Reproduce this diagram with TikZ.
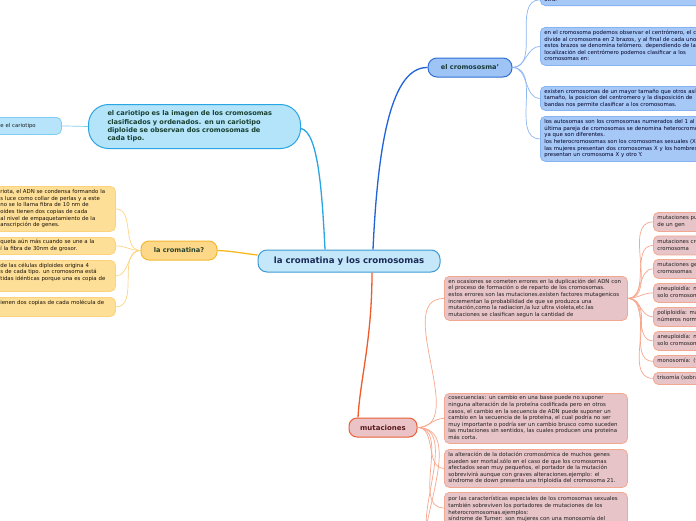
\documentclass[tikz,border=0pt]{standalone}
\usepackage{fontspec}
\setmainfont{DejaVu Sans}
\usetikzlibrary{calc}
\definecolor{bfill}{HTML}{A6C8F7}
\definecolor{bline}{HTML}{86B3F1}
\definecolor{cromfill}{HTML}{9EC4F6}
\definecolor{cromline}{HTML}{2F6FD6}
\definecolor{rootfill}{HTML}{C5E7FA}
\definecolor{rootline}{HTML}{3D9BD6}
\definecolor{cariofill}{HTML}{B3E4FA}
\definecolor{carioline}{HTML}{2AA5E3}
\definecolor{cchfill}{HTML}{B7E4FA}
\definecolor{cchline}{HTML}{7DCEF2}
\definecolor{cmtfill}{HTML}{FDD888}
\definecolor{cmtline}{HTML}{F3B833}
\definecolor{yfill}{HTML}{FEDF97}
\definecolor{yline}{HTML}{FDD27C}
\definecolor{mutfill}{HTML}{EBC3C6}
\definecolor{mutline}{HTML}{EA6036}
\definecolor{mfill}{HTML}{E7C4C8}
\definecolor{mline}{HTML}{F4A790}
\definecolor{cyanc}{HTML}{2AA5E3}
\definecolor{bluec}{HTML}{1E63D8}
\definecolor{yelc}{HTML}{F8B91C}
\definecolor{redc}{HTML}{EF5B2A}
\definecolor{subblue}{HTML}{8CB6F2}
\definecolor{subyel}{HTML}{FDD584}
\definecolor{subsal}{HTML}{F8A78C}
\newcommand\mmsmall{\fontsize{5.4}{6.6}\selectfont}
\newcommand\mmlines[1]{\begin{tabular}{@{}l@{}}#1\end{tabular}}
\tikzset{
  box/.style={draw, line width=0.8pt, anchor=north west, inner xsep=4pt, inner ysep=0pt, align=left, font=\mmsmall, text=black!88},
  bluebox/.style={box, fill=bfill, draw=bline, rounded corners=5pt, text=black!85!blue},
  yelbox/.style={box, fill=yfill, draw=yline, rounded corners=5pt, inner xsep=10pt, text=black!88!brown},
  mbox/.style={box, fill=mfill, draw=mline, rounded corners=5pt},
  topic/.style={draw, line width=1pt, font=\bfseries\fontsize{6.6}{8}\selectfont, inner sep=0pt},
  conn/.style={line width=0.7pt},
  mainconn/.style={line width=1.3pt},
}
\begin{document}
\begin{tikzpicture}[x=1pt,y=-1pt]
\clip (0,0) rectangle (696,520);
\fill[white] (0,0) rectangle (696,520);

% central
\node[topic, fill=rootfill, draw=rootline, rounded corners=9pt, minimum width=182pt, minimum height=22pt, text={rgb,255:red,27;green,43;blue,87}, font=\bfseries\fontsize{8.6}{10}\selectfont] (root) at (349,261) {la cromatina y los cromosomas};

% el cromososma'
\node[topic, fill=cromfill, draw=cromline, rounded corners=9pt, minimum width=84pt, minimum height=19pt, text={rgb,255:red,24;green,58;blue,56}] (crom) at (470,67.5) {el cromososma'};

\node[bluebox, anchor=south west, text width=212pt, inner ysep=2.5pt] (b1) at (540,6) {\mmlines{otra.}};
\node[bluebox, text width=212pt, minimum height=38pt] (b2) at (540,27) {\mmlines{en el cromosoma podemos observar el centrómero, el cual\\divide al cromosoma en 2 brazos, y al final de cada uno de\\estos brazos se denomina telómero. dependiendo de la\\localización del centrómero podemos clasificar a los\\cromosomas en:}};
\node[bluebox, text width=212pt, minimum height=24pt] (b3) at (540,86) {\mmlines{existen cromosomas de un mayor tamaño que otros así\\tamaño, la posicion del centromero y la disposición de\\bandas nos permite clasificar a los cromosomas.}};
\node[bluebox, text width=212pt, minimum height=45pt] (b4) at (540,116) {\mmlines{los autosomas son los cromosomas numerados del 1 al 22, la\\última pareja de cromosomas se denomina heterocromosomas\\ya que son diferentes.\\los heterocromosomas son los cromosomas sexuales (X e Y)\\las mujeres presentan dos cromosomas X y los hombres\\presentan un cromosoma X y otro Y.}};

% cariotipo
\node[topic, anchor=north west, fill=cariofill, draw=carioline, rounded corners=20pt, minimum width=212pt, minimum height=44pt, inner xsep=19pt, text width=174pt, align=left, text={rgb,255:red,23;green,63;blue,48}, font=\bfseries\fontsize{6.6}{8.2}\selectfont] (cario) at (88,104) {\mmlines{el cariotipo es la imagen de los cromosomas\\clasificados y ordenados. en un cariotipo\\diploide se observan dos cromosomas de\\cada tipo.}};
\node[box, fill=cchfill, draw=cchline, rounded corners=5pt, inner xsep=10pt, text width=51pt, minimum height=17pt] (cch) at (-10,117) {\mmlines{e el cariotipo}};

% la cromatina?
\node[topic, fill=cmtfill, draw=cmtline, rounded corners=8pt, minimum width=76pt, minimum height=19pt, text={rgb,255:red,40;green,66;blue,44}] (cmt) at (179,250.5) {la cromatina?};
\node[yelbox, text width=105pt, minimum height=45pt] (y1) at (-10,186) {\mmlines{riota, el ADN se condensa formando la\\s luce  como collar de perlas y a este\\no se lo llama  fibra de 10 nm de\\oides tienen dos copias de cada\\al nivel de empaquetamiento de la\\anscripción de genes.}};
\node[yelbox, text width=105pt, minimum height=17pt] (y2) at (-10,237) {\mmlines{queta aún más cuando se une a la\\í la fibra de 30nm de grosor.}};
\node[yelbox, text width=105pt, minimum height=31pt] (y3) at (-10,260) {\mmlines{de las células diploides origina 4\\s de cada tipo. un cromosoma está\\tidas idénticas porque una es copia de\\\mbox{}}};
\node[yelbox, text width=105pt, minimum height=19pt] (y4) at (-10,297) {\mmlines{ienen dos copias de cada molécula de\\\mbox{}}};

% mutaciones
\node[topic, fill=mutfill, draw=mutline, rounded corners=8pt, minimum width=68pt, minimum height=19pt, text={rgb,255:red,90;green,28;blue,28}, font=\bfseries\fontsize{7}{8}\selectfont] (mut) at (383,427.5) {mutaciones};
\node[mbox, text width=175pt, minimum height=44pt] (ma) at (444,276) {\mmlines{en ocasiones se cometen errores en la duplicación del ADN con\\el proceso de formación o de reparto de los cromosomas.\\estos errores son las mutaciones.existen factores mutagenicos\\incrementan la probabilidad de que se produzca una\\mutación,como la radiacion,la luz ultra violeta,etc.las\\mutaciones se clasifican segun la cantidad de}};
\node[mbox, text width=175pt, minimum height=50pt] (mb) at (444,393) {\mmlines{cosecuencias:  un cambio en una base puede no suponer\\ninguna alteración de la proteína codificada pero en otros\\casos, el cambio en la secuencia de ADN puede suponer un\\cambio en la secuencia de la proteína, el cual podría no ser\\muy importante o podría ser un cambio brusco como suceden\\las mutaciones sin sentidos, las cuales producen una proteína\\más corta.}};
\node[mbox, text width=175pt, minimum height=38pt] (mc) at (444,449) {\mmlines{la alteración de la dotación cromosómica de muchos genes\\pueden ser mortal.sólo en el caso de que los cromosomas\\afectados sean muy pequeños, el portador de la mutación\\sobrevivirá aunque con graves alteraciones.ejemplo: el\\síndrome de down presenta una triploidía del cromosoma 21.}};
\node[mbox, text width=175pt, minimum height=34pt, anchor=north west] (md) at (444,492) {\mmlines{por las características especiales de los cromosomas sexuales\\también sobreviven los portadores de mutaciones de los\\heterocromosomas.ejemplos:\\síndrome de Turner: son mujeres con una monosomía del}};
\coordinate (me) at (444,548);
\coordinate (mf) at (444,585);

% A children
\node[mbox, text width=102pt, minimum height=19pt] (a1) at (653,212) {\mmlines{mutaciones puntuales\\de un gen}};
\node[mbox, text width=102pt, minimum height=19pt] (a2) at (653,235.5) {\mmlines{mutaciones cromosómicas\\cromosoma}};
\node[mbox, text width=102pt, minimum height=19pt] (a3) at (653,259) {\mmlines{mutaciones genómicas\\cromosomas}};
\node[mbox, text width=102pt, minimum height=19pt] (a4) at (653,283) {\mmlines{aneuploidía: no afecta\\solo cromosoma}};
\node[mbox, text width=102pt, minimum height=19pt] (a5) at (653,307) {\mmlines{poliploidía: más de los\\números normales}};
\node[mbox, text width=102pt, minimum height=19pt] (a6) at (653,331) {\mmlines{aneuploidía: no afecta\\solo cromosoma}};
\node[mbox, text width=102pt, minimum height=12pt] (a7) at (653,355) {\mmlines{monosomía: (falta uno)}};
\node[mbox, text width=102pt, minimum height=12pt] (a8) at (653,372) {\mmlines{trisomía (sobra uno)}};

% main connectors
\draw[mainconn, draw=bluec] ($(root.north)+(24,0)$) .. controls (378,140) and (392,67) .. (crom.west);
\draw[mainconn, draw=cyanc] ($(root.north)+(-24,0)$) .. controls (322,190) and (318,132) .. ($(cario.east)+(0,2)$);
\draw[mainconn, draw=yelc] ($(root.west)+(0,-6)$) .. controls (240,253) and (232,251) .. (cmt.east);
\draw[mainconn, draw=redc] ($(root.south)+(23,0)$) .. controls (372,340) and (360,380) .. ($(mut.north)+(-25,0)$);

% sub connectors
\foreach \t in {b1,b2,b3,b4}
  \draw[conn, draw=subblue] (crom.east) to[out=0,in=180] (\t.west);
\draw[conn, draw=cchline] (cario.west) -- (cch.east);
\foreach \t in {y1,y2,y3,y4}
  \draw[conn, draw=subyel] (cmt.west) to[out=180,in=0] (\t.east);
\draw[conn, draw=subsal] (mut.east) to[out=0,in=180] ($(ma.west)+(0,0)$);
\foreach \t in {mb,mc}
  \draw[conn, draw=subsal] (mut.east) to[out=0,in=180] (\t.west);
\draw[conn, draw=subsal] (mut.east) to[out=0,in=180] ($(md.north west)+(0,16)$);
\draw[conn, draw=subsal] (mut.east) to[out=0,in=180] (me);
\draw[conn, draw=subsal] (mut.east) to[out=0,in=180] (mf);
\foreach \t in {a1,a2,a3,a4,a5,a6,a7,a8}
  \draw[conn, draw=subsal] (ma.east) to[out=0,in=180] (\t.west);
\end{tikzpicture}
\end{document}
